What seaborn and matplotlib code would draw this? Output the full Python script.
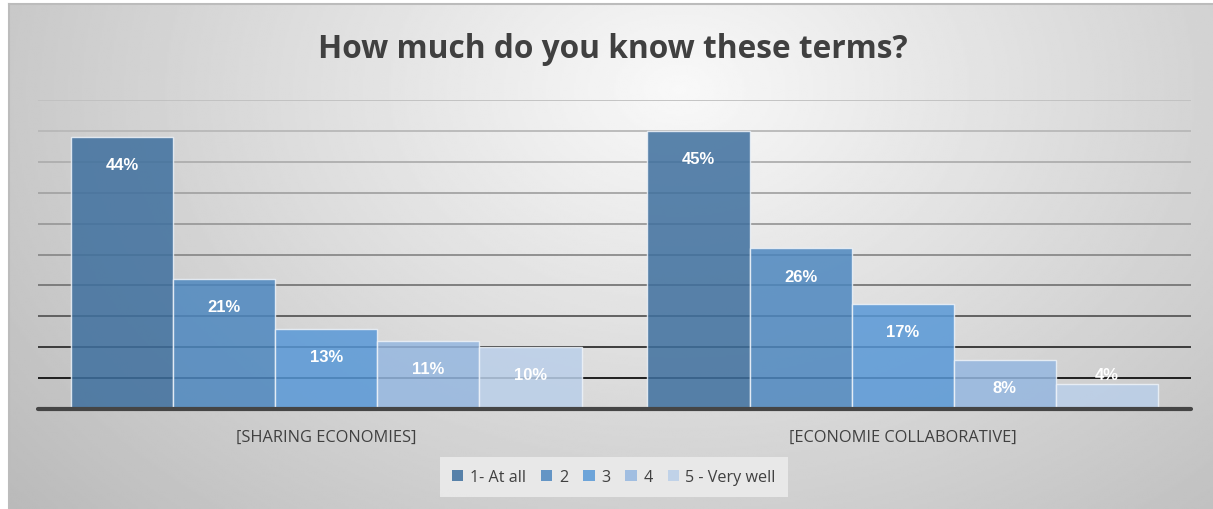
import numpy as np
import pandas as pd
import matplotlib
matplotlib.use("Agg")
import matplotlib.pyplot as plt
from matplotlib.patches import Patch
import seaborn as sns

# Survey results (share of respondents, %)
terms = ["[SHARING ECONOMIES]", "[ECONOMIE COLLABORATIVE]"]
levels = ["1- At all", "2", "3", "4", "5 - Very well"]
sharing_economies = [44, 21, 13, 11, 10]
economie_collaborative = [45, 26, 17, 8, 4]
y_ticks = [0, 5, 10, 15, 20, 25, 30, 35, 40, 45, 50]

palette = ["#3e6f9e", "#4d87bf", "#5898d7", "#95b7e0", "#bacfe9"]
# gridline colours from the top line (50%) down to 5%
grid_colors = ["#c0c0c0", "#b8b8b8", "#aeaeae", "#a4a4a4", "#9a9a9a",
               "#8a8a8a", "#777777", "#585858", "#303030", "#111111"]

df = pd.DataFrame({
    "term": np.repeat(terms, len(levels)),
    "level": levels * len(terms),
    "share": sharing_economies + economie_collaborative,
})

sns.set_theme(style="white")
plt.rcParams["font.family"] = ["Open Sans", "DejaVu Sans"]

W, H = 1213, 510
fig = plt.figure(figsize=(W / 100, H / 100), dpi=100)
fig.patch.set_facecolor("white")

# Radial grey gradient behind the chart area
bg = fig.add_axes([9 / W, 0, (W - 9) / W, (H - 5) / H], zorder=-10)
gx, gy = np.meshgrid(np.linspace(9, W, 600), np.linspace(5, H, 260))
r = np.sqrt(((gx - 680) / 720) ** 2 + ((gy - 90) / 520) ** 2)
shade = 0.975 - 0.20 * np.clip(r, 0, 1.25)
bg.imshow(shade, cmap="gray", vmin=0, vmax=1, aspect="auto",
          extent=[0, 1, 0, 1], origin="upper", interpolation="bilinear")
bg.set_xlim(0, 1)
bg.set_ylim(0, 1)
bg.set_xticks([])
bg.set_yticks([])
for side, sp in bg.spines.items():
    sp.set_visible(side in ("left", "top"))
    sp.set_color("#bcbcbc")
    sp.set_linewidth(1.5)

ax = fig.add_axes([38 / W, 1 - 410 / H, (1191 - 38) / W, (410 - 101) / H])
ax.patch.set_alpha(0)

sns.barplot(data=df, x="term", y="share", hue="level", hue_order=levels,
            palette=palette, saturation=1, width=0.886, gap=0, alpha=0.85,
            edgecolor="#eef3f9", linewidth=1.0, ax=ax, zorder=2, legend=False)

ax.set_ylim(y_ticks[0], y_ticks[-1])
ax.set_xlim(-0.5, 1.5)

# Horizontal gridlines, darkening toward the baseline
for yv, col in zip(y_ticks[:0:-1], grid_colors):
    ax.axhline(yv, color=col, lw=1.3, zorder=0.5)
ax.axhline(0, color="#454545", lw=3.0, zorder=4, clip_on=False)

for sp in ax.spines.values():
    sp.set_visible(False)
ax.set_yticks([])
ax.set_xlabel("")
ax.set_ylabel("")
ax.tick_params(axis="x", length=0, pad=14, labelsize=11.8, labelcolor="#404040")

# Value labels
for cont in ax.containers:
    for bar in cont:
        h = bar.get_height()
        cx = bar.get_x() + bar.get_width() / 2
        off = -20.0 if h >= 6 else 7.2
        ax.annotate(f"{h:.0f}%", (cx, h), xytext=(0, off),
                    textcoords="offset points", ha="center", va="center",
                    color="white", fontsize=12, fontweight="bold",
                    family=["Liberation Sans", "DejaVu Sans"], zorder=5)

fig.text(613 / W, 1 - 50 / H, "How much do you know these terms?",
         ha="center", va="center", fontsize=22.8, fontweight="bold",
         color="#404040")

handles = [Patch(facecolor=c, alpha=0.85, edgecolor="none") for c in palette]
leg = fig.legend(handles, levels, loc="center", ncol=5,
                 bbox_to_anchor=(614 / W, 1 - 478 / H), frameon=True,
                 fontsize=11.6, handlelength=0.7, handleheight=0.7,
                 handletextpad=0.4, columnspacing=0.95, borderpad=0.75,
                 fancybox=False)
leg.get_frame().set_facecolor("#ebebeb")
leg.get_frame().set_edgecolor("none")
leg.get_frame().set_alpha(0.9)
for t in leg.get_texts():
    t.set_color("#404040")

fig.savefig("out.png", dpi=100)
